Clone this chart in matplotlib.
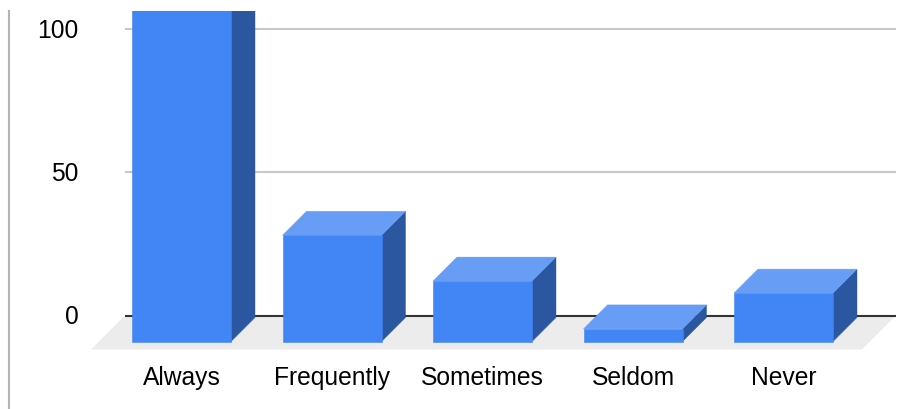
import matplotlib
matplotlib.use('Agg')
import matplotlib.pyplot as plt
from matplotlib.patches import Polygon

plt.rcParams['font.family'] = ['Liberation Sans', 'DejaVu Sans']

categories = ['Always', 'Frequently', 'Sometimes', 'Seldom', 'Never']
values = [125, 37.1, 21.1, 4.4, 16.9]
y_ticks = [0, 50, 100]

FRONT = '#4285f4'
SIDE = '#2b57a0'
TOP = '#689df6'

# pixel scale of the picture, 3d look is just offsets
px_x = 150.5
px_y = 2.863
zero_y = 316.5
bar_w = 99 / px_x
dx = 24 / px_x
dy = 24 / px_y
base = -26 / px_y

fig = plt.figure(figsize=(9.1, 4.1), dpi=100)
ax = fig.add_axes([8.8 / 910, 0, 901.2 / 910, 398.5 / 410])
ax.set_xlim((8.8 - 181.5) / px_x, (910 - 181.5) / px_x)
ax.set_ylim((zero_y - 410) / px_y, (zero_y - 11.5) / px_y)

for s in ['top', 'right', 'bottom']:
    ax.spines[s].set_visible(False)
ax.spines['left'].set_color('#b4b4b4')
ax.spines['left'].set_linewidth(1.5)
ax.set_xticks([])
ax.set_yticks([])

# floor
x0 = (125 - 181.5) / px_x
x1 = (896 - 181.5) / px_x
fy = -34 / px_y
ax.add_patch(Polygon([(x0, 0), (x1, 0), (x1 - 34 / px_x, fy), (x0 - 34 / px_x, fy)],
                     facecolor='#ececec', edgecolor='none', zorder=1))

# grid lines
for t in y_ticks:
    color = '#333333' if t == 0 else '#c8c8c8'
    ax.plot([x0, x1], [t, t], color=color, linewidth=1.5, zorder=2, solid_capstyle='butt')
    ax.text((78.5 - 181.5) / px_x, t - 0.2, str(t), ha='right', va='center', fontsize=17.7, color='#000000', clip_on=False)

# bars, thin edge hides the seam between the faces
xs = list(range(len(categories)))
ax.bar(xs, values, width=bar_w, bottom=base, color=FRONT, edgecolor=FRONT, linewidth=0.4, zorder=4)
for x, v in zip(xs, values):
    left = x - bar_w / 2
    right = x + bar_w / 2
    top = base + v
    ax.add_patch(Polygon([(right, base), (right + dx, base + dy), (right + dx, top + dy), (right, top)],
                         facecolor=SIDE, edgecolor=SIDE, linewidth=0.3, zorder=3))
    ax.add_patch(Polygon([(left, top), (right, top), (right + dx, top + dy), (left + dx, top + dy)],
                         facecolor=TOP, edgecolor=TOP, linewidth=0.3, zorder=3.5))
    ax.text(x, (zero_y - 378) / px_y, categories[x], ha='center', va='center', fontsize=17.7, color='#000000')

fig.savefig('out.png', dpi=100)
